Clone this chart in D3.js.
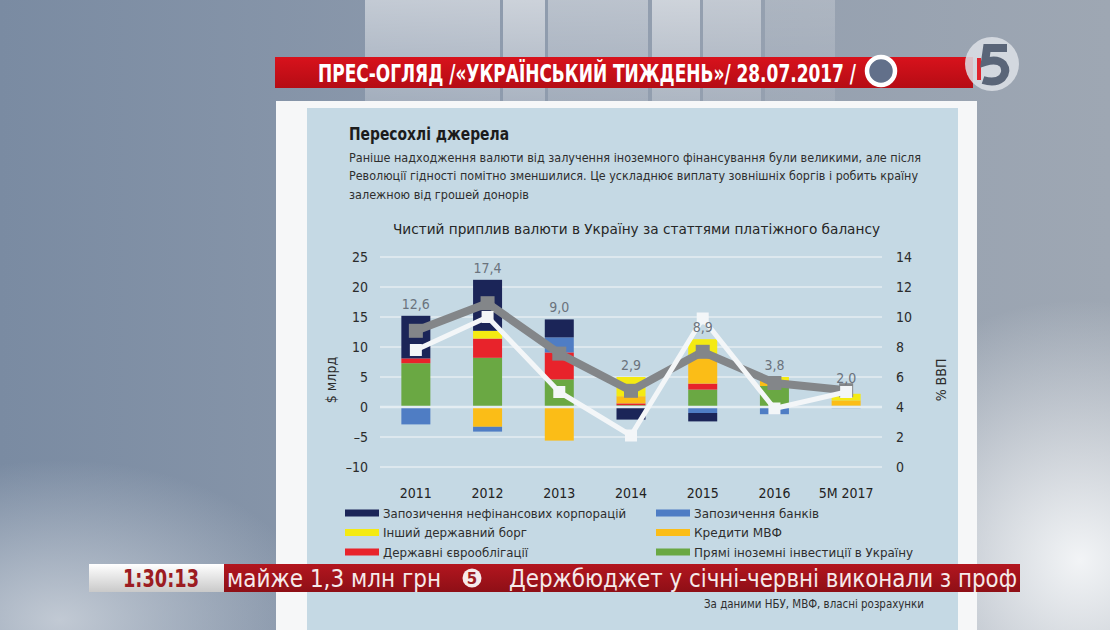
<!DOCTYPE html>
<html>
<head>
<meta charset="utf-8">
<script src="https://cdn.jsdelivr.net/npm/d3@7"></script>
<style>
  html, body { margin: 0; padding: 0; background: #8a97a9; overflow: hidden; }
  svg { display: block; }
</style>
</head>
<body>
<div id="screen"></div>
<script>
// Net currency inflow into Ukraine by balance-of-payments item, $ bn
const years = ['2011', '2012', '2013', '2014', '2015', '2016', '5M 2017'];

// stacked bar series, bottom to top
const fdi = [7.3, 8.2, 4.6, 0.3, 2.9, 3.5, 0.2];
const eurobonds = [0.8, 3.2, 4.5, 0.3, 1.0, 0, 0];
const imfLoans = [0, -3.3, -5.6, 1.2, 4.6, 1.0, 0.9];
const otherGovDebt = [0, 1.3, 0, 3.2, 2.8, 0.5, 1.1];
const bankBorrowing = [-2.9, -0.8, 2.5, 0, -1.0, -1.2, -0.2];
const corpBorrowing = [7.1, 8.5, 3.0, -2.1, -1.4, 0, 0];

// labels above the bars and the two lines
const netLabels = ['12,6', '17,4', '9,0', '2,9', '8,9', '3,8', '2,0'];
const netLine = [12.7, 17.3, 8.9, 2.7, 9.2, 4.0, 2.8];      // $ bn, left axis
const gdpShare = [7.8, 10.0, 5.0, 2.1, 9.9, 3.9, 5.0];      // % of GDP, right axis

const leftTicks = [-10, -5, 0, 5, 10, 15, 20, 25];
const rightTicks = [0, 2, 4, 6, 8, 10, 12, 14];

const seriesKeys = ['fdi', 'euro', 'imf', 'other', 'banks', 'corp'];
const seriesValues = {
    fdi: fdi, euro: eurobonds, imf: imfLoans,
    other: otherGovDebt, banks: bankBorrowing, corp: corpBorrowing
};
const seriesNames = {
    corp: 'Запозичення нефінансових корпорацій',
    banks: 'Запозичення банків',
    other: 'Інший державний борг',
    imf: 'Кредити МВФ',
    euro: 'Державні єврооблігації',
    fdi: 'Прямі іноземні інвестиції в Україну'
};
const seriesColors = {
    corp: '#1b2558',
    banks: '#4f7dc4',
    other: '#f4ea12',
    imf: '#fbbd17',
    euro: '#e8232b',
    fdi: '#6aa843'
};
const legendOrder = ['corp', 'banks', 'other', 'imf', 'euro', 'fdi'];

const config = {
    width: 1110,
    height: 630,
    plot: { left: 380, right: 882, top: 257, bottom: 467 },
    barWidth: 29,
    panelColor: '#c5d9e4',
    gridColor: '#e4edf2'
};

const FONT = '"Liberation Sans Narrow", "DejaVu Sans Condensed", "Roboto Condensed", "Liberation Sans", sans-serif';

let svg;

/**
 * Studio background, banner and white card
 */
function drawFrame() {
    const defs = svg.append('defs');

    const bg = defs.append('linearGradient').attr('id', 'bg').attr('x1', 0).attr('x2', 1).attr('y1', 0).attr('y2', 0);
    bg.append('stop').attr('offset', 0).attr('stop-color', '#7a8ba2');
    bg.append('stop').attr('offset', 0.45).attr('stop-color', '#8e9bad');
    bg.append('stop').attr('offset', 1).attr('stop-color', '#9ea7b3');

    const glowR = defs.append('radialGradient').attr('id', 'glowR').attr('cx', 0.5).attr('cy', 0.5).attr('r', 0.5);
    glowR.append('stop').attr('offset', 0).attr('stop-color', '#f2f4f6').attr('stop-opacity', 1);
    glowR.append('stop').attr('offset', 1).attr('stop-color', '#f2f4f6').attr('stop-opacity', 0);

    const glowL = defs.append('radialGradient').attr('id', 'glowL').attr('cx', 0.5).attr('cy', 0.5).attr('r', 0.5);
    glowL.append('stop').attr('offset', 0).attr('stop-color', '#c9d0d9').attr('stop-opacity', 0.9);
    glowL.append('stop').attr('offset', 1).attr('stop-color', '#c9d0d9').attr('stop-opacity', 0);

    const colFade = defs.append('linearGradient').attr('id', 'colFade').attr('x1', 0).attr('x2', 0).attr('y1', 0).attr('y2', 1);
    colFade.append('stop').attr('offset', 0).attr('stop-color', '#ffffff').attr('stop-opacity', 0.55);
    colFade.append('stop').attr('offset', 1).attr('stop-color', '#ffffff').attr('stop-opacity', 0.25);

    const red = defs.append('linearGradient').attr('id', 'red').attr('x1', 0).attr('x2', 0).attr('y1', 0).attr('y2', 1);
    red.append('stop').attr('offset', 0).attr('stop-color', '#d8121c');
    red.append('stop').attr('offset', 1).attr('stop-color', '#b50c14');

    const tick = defs.append('linearGradient').attr('id', 'tickRed').attr('x1', 0).attr('x2', 0).attr('y1', 0).attr('y2', 1);
    tick.append('stop').attr('offset', 0).attr('stop-color', '#b3161f');
    tick.append('stop').attr('offset', 1).attr('stop-color', '#8e0f16');

    const clock = defs.append('linearGradient').attr('id', 'clock').attr('x1', 0).attr('x2', 0).attr('y1', 0).attr('y2', 1);
    clock.append('stop').attr('offset', 0).attr('stop-color', '#ffffff');
    clock.append('stop').attr('offset', 1).attr('stop-color', '#c9c9c9');

    svg.append('rect').attr('width', config.width).attr('height', config.height).attr('fill', 'url(#bg)');
    svg.append('ellipse').attr('cx', 1080).attr('cy', 560).attr('rx', 260).attr('ry', 260).attr('fill', 'url(#glowR)');
    svg.append('ellipse').attr('cx', 60).attr('cy', 620).attr('rx', 260).attr('ry', 160).attr('fill', 'url(#glowL)');

    // light studio columns behind the banner
    const columns = [
        [365, 135, 0.9], [503, 42, 1.3], [548, 100, 0.7],
        [652, 48, 1.1], [703, 58, 0.8], [765, 70, 0.4]
    ];
    svg.selectAll('.column')
        .data(columns)
        .join('rect')
        .attr('class', 'column')
        .attr('x', d => d[0]).attr('y', 0)
        .attr('width', d => d[1]).attr('height', 101)
        .attr('fill', 'url(#colFade)')
        .attr('opacity', d => d[2]);

    // white card and chart panel
    svg.append('rect').attr('x', 276).attr('y', 101).attr('width', 701).attr('height', 529).attr('fill', '#f6f7f8');
    svg.append('rect').attr('x', 307).attr('y', 108).attr('width', 651).attr('height', 522).attr('fill', config.panelColor);

    // red headline banner
    svg.append('rect').attr('x', 275).attr('y', 57).attr('width', 698).attr('height', 31).attr('fill', 'url(#red)');
    svg.append('text')
        .attr('x', 318).attr('y', 82)
        .attr('textLength', 538).attr('lengthAdjust', 'spacingAndGlyphs')
        .style('font-family', FONT).style('font-weight', 'bold').style('font-size', '25px')
        .style('fill', '#ffffff')
        .text('ПРЕС-ОГЛЯД /«УКРАЇНСЬКИЙ ТИЖДЕНЬ»/ 28.07.2017 /');
    svg.append('circle').attr('cx', 881).attr('cy', 71).attr('r', 14)
        .attr('fill', '#62708a').attr('stroke', '#ffffff').attr('stroke-width', 4.5);

    // channel logo, drawn as a shape
    svg.append('circle').attr('cx', 992).attr('cy', 64).attr('r', 27)
        .attr('fill', '#dde1e6').attr('fill-opacity', 0.85);
    svg.append('rect').attr('x', 977).attr('y', 58).attr('width', 4).attr('height', 22).attr('fill', '#e0242e');
    svg.append('path')
        .attr('d', 'M1007,48 H987 L985,62 Q997,58 1003,64 Q1008,71 1002,78 Q995,84 983,80')
        .attr('fill', 'none').attr('stroke', '#5a6578').attr('stroke-width', 8)
        .attr('stroke-linejoin', 'miter');
}

/**
 * Headline texts of the chart card
 */
function drawHeadings() {
    svg.append('text')
        .attr('x', 349).attr('y', 140)
        .attr('textLength', 160).attr('lengthAdjust', 'spacingAndGlyphs')
        .style('font-family', FONT).style('font-weight', 'bold').style('font-size', '17px')
        .style('fill', '#1c1c1c')
        .text('Пересохлі джерела');

    const lines = [
        ['Раніше надходження валюти від залучення іноземного фінансування були великими, але після', 572],
        ['Революції гідності помітно зменшилися. Це ускладнює виплату зовнішніх боргів і робить країну', 569],
        ['залежною від грошей донорів', 180]
    ];
    svg.selectAll('.sub')
        .data(lines)
        .join('text')
        .attr('class', 'sub')
        .attr('x', 349)
        .attr('y', (d, i) => 162 + i * 18.3)
        .attr('textLength', d => d[1]).attr('lengthAdjust', 'spacingAndGlyphs')
        .style('font-family', FONT).style('font-size', '13px')
        .style('fill', '#2e2e2e')
        .text(d => d[0]);

    svg.append('text')
        .attr('x', 393).attr('y', 234)
        .attr('textLength', 487).attr('lengthAdjust', 'spacingAndGlyphs')
        .style('font-family', FONT).style('font-size', '14px')
        .style('fill', '#262626')
        .text('Чистий приплив валюти в Україну за статтями платіжного балансу');
}

/**
 * Bars, lines, axes
 */
function drawChart() {
    const p = config.plot;

    const x = d3.scalePoint().domain(years).range([p.left, p.right]).padding(0.5);
    const y = d3.scaleLinear().domain([-10, 25]).range([p.bottom, p.top]);
    const y2 = d3.scaleLinear().domain([0, 14]).range([p.bottom, p.top]);

    // horizontal grid
    svg.append('g')
        .selectAll('line')
        .data(leftTicks)
        .join('line')
        .attr('x1', p.left).attr('x2', p.right)
        .attr('y1', d => y(d)).attr('y2', d => y(d))
        .attr('stroke', config.gridColor).attr('stroke-width', 1.6);

    // left axis
    const leftAxis = svg.append('g')
        .attr('transform', `translate(${p.left - 12},0)`)
        .call(d3.axisLeft(y).tickValues(leftTicks).tickSize(0).tickPadding(0)
            .tickFormat(d => d < 0 ? '–' + Math.abs(d) : d));
    leftAxis.select('.domain').remove();
    leftAxis.selectAll('text')
        .style('font-family', FONT).style('font-size', '14px').style('fill', '#2b2b2b');

    // right axis
    const rightAxis = svg.append('g')
        .attr('transform', `translate(${p.right + 14},0)`)
        .call(d3.axisRight(y2).tickValues(rightTicks).tickSize(0).tickPadding(0));
    rightAxis.select('.domain').remove();
    rightAxis.selectAll('text')
        .style('font-family', FONT).style('font-size', '14px').style('fill', '#2b2b2b');

    // axis titles
    svg.append('text')
        .attr('transform', `translate(336,${y(4.5)}) rotate(-90)`)
        .attr('text-anchor', 'middle')
        .style('font-family', FONT).style('font-size', '14px').style('fill', '#2b2b2b')
        .text('$ млрд');
    svg.append('text')
        .attr('transform', `translate(946,${y2(5.8)}) rotate(-90)`)
        .attr('text-anchor', 'middle')
        .style('font-family', FONT).style('font-size', '14px').style('fill', '#2b2b2b')
        .text('% ВВП');

    // x labels
    svg.append('g')
        .selectAll('text')
        .data(years)
        .join('text')
        .attr('x', d => x(d))
        .attr('y', 498)
        .attr('text-anchor', 'middle')
        .style('font-family', FONT).style('font-size', '14px').style('fill', '#222')
        .text(d => d);

    // stacked bars
    const table = years.map((yr, i) => {
        const row = { year: yr };
        seriesKeys.forEach(k => { row[k] = seriesValues[k][i]; });
        return row;
    });
    const stacked = d3.stack()
        .keys(seriesKeys)
        .order(d3.stackOrderNone)
        .offset(d3.stackOffsetDiverging)(table);

    svg.append('g')
        .selectAll('g')
        .data(stacked)
        .join('g')
        .attr('fill', s => seriesColors[s.key])
        .selectAll('rect')
        .data(s => s)
        .join('rect')
        .attr('x', d => x(d.data.year) - config.barWidth / 2)
        .attr('width', config.barWidth)
        .attr('y', d => y(Math.max(d[0], d[1])))
        .attr('height', d => Math.abs(y(d[0]) - y(d[1])));

    // zero line over the bars
    svg.append('line')
        .attr('x1', p.left).attr('x2', p.right)
        .attr('y1', y(0)).attr('y2', y(0))
        .attr('stroke', config.gridColor).attr('stroke-width', 2.4);

    // net inflow line (grey)
    const netPts = years.map((yr, i) => [x(yr), y(netLine[i])]);
    svg.append('path')
        .attr('d', d3.line()(netPts))
        .attr('fill', 'none').attr('stroke', '#838689').attr('stroke-width', 8)
        .attr('stroke-linejoin', 'round');
    svg.append('g')
        .selectAll('rect')
        .data(netPts)
        .join('rect')
        .attr('x', d => d[0] - 7).attr('y', d => d[1] - 7)
        .attr('width', 14).attr('height', 14)
        .attr('fill', '#838689');

    // share of GDP line (white)
    const gdpPts = years.map((yr, i) => [x(yr), y2(gdpShare[i])]);
    svg.append('path')
        .attr('d', d3.line()(gdpPts))
        .attr('fill', 'none').attr('stroke', '#f3f6f8').attr('stroke-width', 5)
        .attr('stroke-linejoin', 'round');
    svg.append('g')
        .selectAll('rect')
        .data(gdpPts)
        .join('rect')
        .attr('x', d => d[0] - 6).attr('y', d => d[1] - 6)
        .attr('width', 12).attr('height', 12)
        .attr('fill', '#f3f6f8');

    // value labels above the positive stack
    const tops = years.map((yr, i) => d3.sum(seriesKeys, k => Math.max(0, seriesValues[k][i])));
    svg.append('g')
        .selectAll('text')
        .data(years)
        .join('text')
        .attr('x', d => x(d))
        .attr('y', (d, i) => Math.min(y(tops[i]), y(netLine[i])) - 7)
        .attr('text-anchor', 'middle')
        .style('font-family', FONT).style('font-size', '14px').style('fill', '#6b737d')
        .text((d, i) => netLabels[i]);
}

/**
 * Legend in two columns
 */
function drawLegend() {
    const legend = svg.append('g')
        .selectAll('g')
        .data(legendOrder)
        .join('g')
        .attr('transform', (d, i) => `translate(${i % 2 === 0 ? 345 : 656},${513 + Math.floor(i / 2) * 19.5})`);

    legend.append('rect')
        .attr('x', 0).attr('y', -3.5)
        .attr('width', 34).attr('height', 7)
        .attr('fill', d => seriesColors[d]);

    const widths = { corp: 243, banks: 125, other: 144, imf: 88, euro: 145, fdi: 219 };
    legend.append('text')
        .attr('x', 38).attr('y', 4.5)
        .attr('textLength', d => widths[d]).attr('lengthAdjust', 'spacingAndGlyphs')
        .style('font-family', FONT).style('font-size', '12.5px').style('fill', '#2e2e2e')
        .text(d => seriesNames[d]);
}

/**
 * News ticker and source line
 */
function drawTicker() {
    svg.append('text')
        .attr('x', 704).attr('y', 608)
        .attr('textLength', 220).attr('lengthAdjust', 'spacingAndGlyphs')
        .style('font-family', FONT).style('font-size', '11.5px').style('fill', '#2e2e2e')
        .text('За даними НБУ, МВФ, власні розрахунки');

    svg.append('rect').attr('x', 89).attr('y', 564).attr('width', 135).attr('height', 28).attr('fill', 'url(#clock)');
    svg.append('rect').attr('x', 224).attr('y', 564).attr('width', 796).attr('height', 28).attr('fill', 'url(#tickRed)');

    svg.append('text')
        .attr('x', 123).attr('y', 587)
        .attr('textLength', 76).attr('lengthAdjust', 'spacingAndGlyphs')
        .style('font-family', FONT).style('font-weight', 'bold').style('font-size', '24px')
        .style('fill', '#9c1c22')
        .text('1:30:13');

    svg.append('text')
        .attr('x', 227).attr('y', 587)
        .attr('textLength', 214).attr('lengthAdjust', 'spacingAndGlyphs')
        .style('font-family', FONT).style('font-size', '24px').style('fill', '#f6eaea')
        .text('майже 1,3 млн грн');

    svg.append('circle').attr('cx', 472).attr('cy', 578).attr('r', 9.5).attr('fill', '#f6eaea');
    svg.append('text')
        .attr('x', 472).attr('y', 584).attr('text-anchor', 'middle')
        .style('font-family', '"DejaVu Sans", sans-serif').style('font-weight', 'bold').style('font-size', '15px')
        .style('fill', '#9c1c22')
        .text('5');

    svg.append('text')
        .attr('x', 509).attr('y', 587)
        .attr('textLength', 508).attr('lengthAdjust', 'spacingAndGlyphs')
        .style('font-family', FONT).style('font-size', '24px').style('fill', '#f6eaea')
        .text('Держбюджет у січні-червні виконали з проф');
}

function init() {
    svg = d3.select('#screen')
        .append('svg')
        .attr('width', config.width)
        .attr('height', config.height);

    drawFrame();
    drawHeadings();
    drawChart();
    drawLegend();
    drawTicker();
}

init();
</script>
</body>
</html>
